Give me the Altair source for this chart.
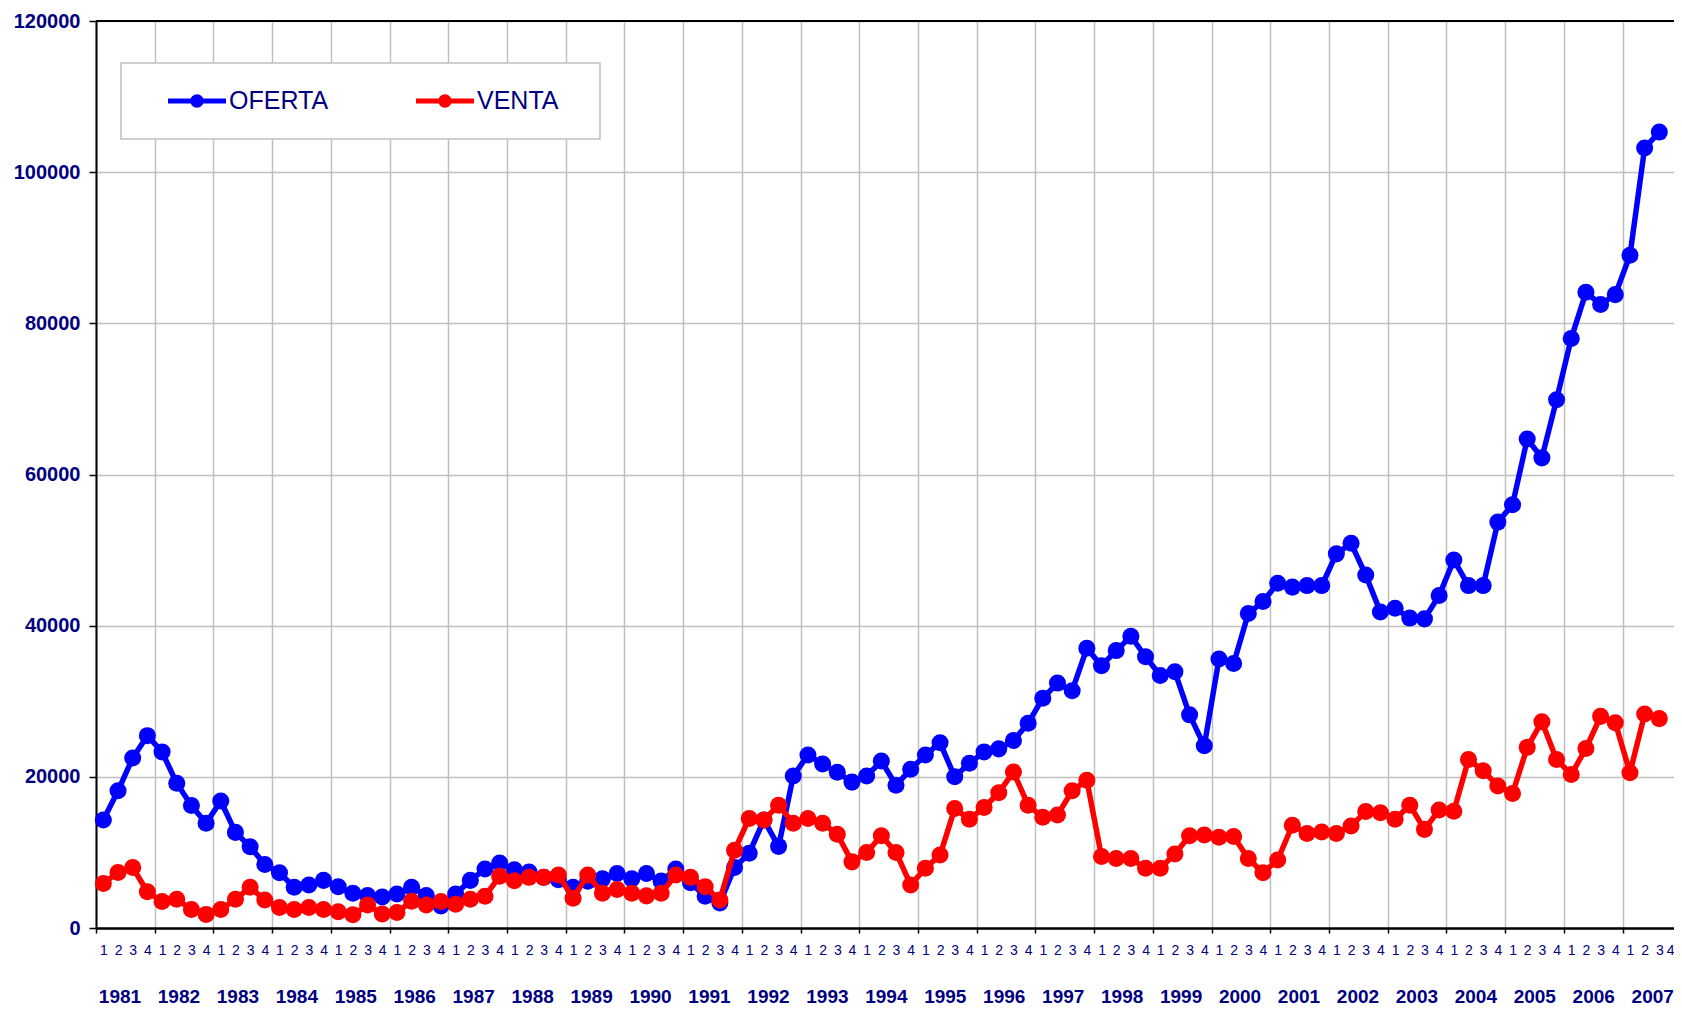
import altair as alt
import pandas as pd

# ---------------- data (quarterly, 1981 Q1 .. 2007 Q3) ----------------
years = list(range(1981, 2008))
quarter_names = ["1", "2", "3", "4"]
series_names = ["OFERTA", "VENTA"]
series_colors = ["#0000ff", "#ff0000"]

oferta = [
    14300, 18150, 22500, 25450,   # 1981
    23300, 19150, 16200, 13850,   # 1982
    16800, 12650, 10750, 8400,    # 1983
    7300, 5400, 5700, 6300,       # 1984
    5450, 4600, 4300, 4100,       # 1985
    4500, 5400, 4300, 2900,       # 1986
    4500, 6300, 7800, 8600,       # 1987
    7700, 7400, 6700, 6400,       # 1988
    5400, 6200, 6500, 7200,       # 1989
    6500, 7200, 6200, 7800,       # 1990
    6000, 4200, 3300, 8000,       # 1991
    9900, 14300, 10800, 20100,    # 1992
    22900, 21700, 20600, 19300,   # 1993
    20100, 22100, 18900, 21000,   # 1994
    22900, 24500, 20000, 21800,   # 1995
    23300, 23700, 24800, 27100,   # 1996
    30400, 32400, 31400, 37000,   # 1997
    34700, 36700, 38600, 35900,   # 1998
    33400, 33900, 28200, 24100,   # 1999
    35600, 35000, 41600, 43200,   # 2000
    45600, 45100, 45300, 45300,   # 2001
    49500, 50900, 46700, 41800,   # 2002
    42300, 41000, 40900, 44000,   # 2003
    48700, 45300, 45300, 53700,   # 2004
    56000, 64700, 62200, 69900,   # 2005
    78000, 84100, 82500, 83800,   # 2006
    89000, 103200, 105300,        # 2007
]

venta = [
    5900, 7350, 8000, 4800,       # 1981
    3500, 3800, 2450, 1800,       # 1982
    2450, 3800, 5400, 3700,       # 1983
    2700, 2450, 2700, 2450,       # 1984
    2150, 1750, 3050, 1850,       # 1985
    2050, 3550, 3050, 3500,       # 1986
    3150, 3800, 4200, 6850,       # 1987
    6250, 6700, 6700, 7000,       # 1988
    3950, 7000, 4600, 5100,       # 1989
    4600, 4250, 4600, 7000,       # 1990
    6700, 5450, 3700, 10300,      # 1991
    14500, 14300, 16250, 13850,   # 1992
    14500, 13850, 12400, 8750,    # 1993
    10000, 12200, 10000, 5700,    # 1994
    7900, 9650, 15800, 14400,     # 1995
    15950, 17900, 20650, 16250,   # 1996
    14650, 14950, 18150, 19550,   # 1997
    9450, 9200, 9200, 7900,       # 1998
    7900, 9800, 12200, 12300,     # 1999
    12000, 12100, 9200, 7300,     # 2000
    9000, 13600, 12500, 12700,    # 2001
    12500, 13500, 15400, 15250,   # 2002
    14400, 16250, 13050, 15600,   # 2003
    15450, 22300, 20800, 18800,   # 2004
    17800, 23900, 27300, 22300,   # 2005
    20300, 23750, 28000, 27150,   # 2006
    20550, 28300, 27700,          # 2007
]

y_ticks = [0, 20000, 40000, 60000, 80000, 100000, 120000]

rows = []
for name, vals in zip(series_names, [oferta, venta]):
    for i, v in enumerate(vals):
        rows.append({"q": i + 0.5, "serie": name, "value": v})
df = pd.DataFrame(rows)

n_quarters = len(years) * 4
NAVY = "#000080"
FONT = "Liberation Sans"
GRID = "#c0c0c0"

x_scale = alt.Scale(domain=[0, n_quarters - 0.5], nice=False, zero=False)
y_scale = alt.Scale(domain=[0, y_ticks[-1]], nice=False)
color_scale = alt.Scale(domain=series_names, range=series_colors)

main_x_axis = alt.Axis(
    orient="bottom", values=list(range(0, n_quarters, 4)), labels=False, title=None,
    grid=True, gridColor=GRID, gridWidth=1.5,
    ticks=True, tickColor="black", tickSize=5, tickWidth=1.5,
    domain=True, domainColor="black", domainWidth=2.5,
)
quarter_labels_js = "[" + ",".join("'%s'" % s for s in quarter_names) + "]"
quarter_axis = alt.Axis(
    orient="bottom", values=[i + 0.5 for i in range(n_quarters)],
    labelExpr=quarter_labels_js + "[floor(datum.value) % 4]",
    title=None, grid=False, ticks=False, domain=False,
    labelFont=FONT, labelFontSize=14, labelColor=NAVY,
    labelPadding=22, labelBaseline="middle", labelOverlap=False, labelFlush=True,
)
year_axis = alt.Axis(
    orient="bottom", values=[4 * k + 1.6 + 0.016 * k for k in range(len(years))],
    labelExpr="floor(datum.value / 4) + %d" % years[0],
    title=None, grid=False, ticks=False, domain=False,
    labelFont=FONT, labelFontSize=19, labelFontWeight="bold", labelColor=NAVY,
    labelPadding=68, labelBaseline="middle", labelOverlap=False, labelFlush=False,
)
y_axis = alt.Axis(
    values=y_ticks, format="d", title=None,
    grid=True, gridColor=GRID, gridWidth=1.5,
    domainColor="black", domainWidth=2,
    tickColor="black", tickSize=7, tickWidth=1.5,
    labelFont=FONT, labelFontSize=20, labelFontWeight="bold", labelColor=NAVY, labelPadding=9,
)

legend_symbol = ("M-1,-0.085L1,-0.085L1,0.085L-1,0.085Z "
                 "M0.23,0A0.23,0.23,0,1,1,-0.23,0A0.23,0.23,0,1,1,0.23,0Z")
legend = alt.Legend(
    orient="none", legendX=25, legendY=42, direction="horizontal",
    title=" ", titleOrient="right", titlePadding=17, titleFontSize=1,
    padding=25, symbolOffset=22, columnPadding=65, clipHeight=26,
    symbolType=legend_symbol, symbolSize=3364, symbolStrokeWidth=0,
    labelFont=FONT, labelFontSize=25, labelColor=NAVY, labelOffset=3,
    fillColor="white", strokeColor=GRID,
)

base = alt.Chart(df)


def enc(layer, x_axis):
    return layer.encode(
        x=alt.X("q:Q", scale=x_scale, axis=x_axis),
        y=alt.Y("value:Q", scale=y_scale, axis=y_axis),
        color=alt.Color("serie:N", scale=color_scale, legend=legend),
    )


def line_layer(name, x_axis):
    return enc(base.transform_filter(alt.datum.serie == name).mark_line(
        strokeWidth=5.5, strokeJoin="round", strokeCap="round"), x_axis)


def point_layer(name, x_axis):
    return enc(base.transform_filter(alt.datum.serie == name).mark_circle(
        size=290, opacity=1), x_axis)


blue_line = line_layer("OFERTA", main_x_axis)
blue_pts = point_layer("OFERTA", quarter_axis)
red_line = line_layer("VENTA", year_axis)
red_pts = point_layer("VENTA", None)

top_rule = alt.Chart(pd.DataFrame({"v": [y_ticks[-1]]})).mark_rule(
    color="black", strokeWidth=2
).encode(y=alt.Y("v:Q", scale=y_scale, axis=y_axis))

chart = alt.layer(blue_line, blue_pts, red_line, red_pts, top_rule).resolve_axis(
    x="independent"
).properties(
    width=1578, height=907,
    autosize=alt.AutoSizeParams(type="none"),
    padding={"left": 88, "top": 13, "right": 0, "bottom": 80},
    background="white",
).configure_view(stroke=None).configure_legend(strokeWidth=1.5)

chart.save("out.html", embed_options={"renderer": "svg", "actions": False})
